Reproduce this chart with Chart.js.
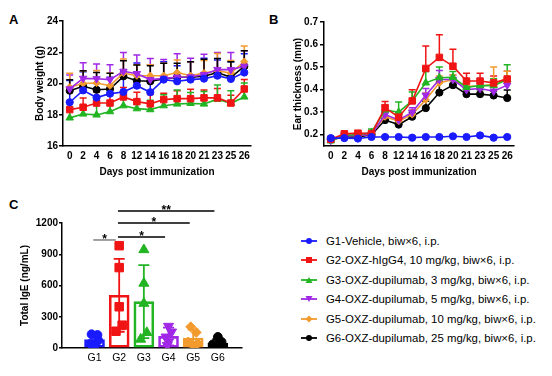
<!DOCTYPE html>
<html><head><meta charset="utf-8">
<script src="https://cdn.jsdelivr.net/npm/chart.js@4/dist/chart.umd.min.js"></script>
<style>
body{margin:0;background:#fff;width:552px;height:376px;overflow:hidden;position:relative;font-family:"Liberation Sans",Arial,sans-serif;}
canvas{position:absolute;}
.lbl{position:absolute;font-weight:bold;font-size:13px;color:#000;}
#legend{position:absolute;left:300px;top:231px;font-size:11.4px;color:#000;}
.row{height:19.5px;display:flex;align-items:center;white-space:nowrap}
.row svg{margin-right:8px}
</style></head>
<body>
<div class="lbl" style="left:9px;top:12px">A</div>
<div class="lbl" style="left:269px;top:12px">B</div>
<div class="lbl" style="left:9px;top:197px">C</div>
<canvas id="cA" width="270" height="190" style="left:0;top:0"></canvas>
<canvas id="cB" width="280" height="190" style="left:260px;top:0"></canvas>
<canvas id="cC" width="260" height="186" style="left:0;top:190px"></canvas>
<div id="legend"></div>
<script>
// ---------- data ----------
const days = ['0','2','4','6','8','12','14','16','18','20','21','23','25','26'];
const groupLabels = ['G1-Vehicle, biw×6, i.p.','G2-OXZ-hIgG4, 10 mg/kg, biw×6, i.p.','G3-OXZ-dupilumab, 3 mg/kg, biw×6, i.p.','G4-OXZ-dupilumab, 5 mg/kg, biw×6, i.p.','G5-OXZ-dupilumab, 10 mg/kg, biw×6, i.p.','G6-OXZ-dupilumab, 25 mg/kg, biw×6, i.p.'];
const groupShort = ['G1','G2','G3','G4','G5','G6'];
const groupColors = ['#1a1aff','#f01414','#22b422','#a028e6','#f39a2e','#000000'];
const groupMarkers = ['circle','rect','triangle','triangle','rectRot','circle'];
const markerRotation = [0,0,0,180,0,0];

const weightG1 = [18.8,19.56,19.1,19.35,19.46,19.86,19.44,20.25,20.14,20.25,20.31,20.5,20.29,20.7];
const weightG2 = [18.33,18.48,18.75,18.75,19.14,18.84,18.7,18.97,19.03,19.03,19.08,19.08,18.75,19.65];
const weightG3 = [17.8,18.05,17.99,18.2,18.58,18.39,18.33,18.58,18.69,18.73,18.69,19.0,18.73,19.14];
const weightG4 = [19.65,20.33,20.3,20.25,20.78,20.63,20.25,20.33,20.4,20.42,20.57,20.89,20.89,21.1];
const weightG5 = [19.76,20.0,20.03,19.86,20.67,20.5,20.5,20.5,20.7,20.5,20.67,20.82,20.67,21.4];
const weightG6 = [19.54,19.82,19.6,19.65,20.46,20.18,20.14,20.29,20.4,20.4,20.46,20.7,20.4,21.1];
const weightErrG1 = [1.4,1.2,0.9,1.05,1.3,1.45,1.76,1.15,1.0,1.15,1.3,1.0,1.1,1.2];
const weightErrG2 = [0.5,0.6,0.7,0.6,0.6,0.6,0.6,0.4,0.5,0.6,0.5,0.6,0.5,0.6];
const weightErrG3 = [0.6,0.5,0.8,0.5,0.6,0.5,0.6,0.7,0.9,0.7,0.8,0.9,0.8,0.9];
const weightErrG4 = [0.9,1.0,0.95,0.95,1.2,1.2,1.35,1.2,1.5,1.2,1.3,1.1,1.1,1.0];
const weightErrG5 = [0.9,0.8,0.8,0.8,0.9,0.7,0.7,0.8,0.8,0.9,0.8,1.1,0.8,1.0];
const weightErrG6 = [0.7,1.0,1.1,1.0,1.0,1.0,1.0,1.0,0.9,1.0,1.1,0.9,1.0,1.0];
const weightTicks = [16,18,20,22,24];

const earG1 = [0.185,0.185,0.183,0.19,0.19,0.19,0.187,0.19,0.19,0.193,0.19,0.197,0.187,0.19];
const earG2 = [0.18,0.204,0.207,0.205,0.32,0.278,0.35,0.494,0.543,0.504,0.438,0.438,0.43,0.447];
const earG3 = [0.173,0.198,0.2,0.21,0.31,0.3,0.35,0.43,0.453,0.455,0.41,0.418,0.418,0.445];
const earG4 = [0.175,0.195,0.197,0.2,0.29,0.265,0.3,0.375,0.445,0.445,0.4,0.405,0.393,0.42];
const earG5 = [0.178,0.198,0.2,0.205,0.28,0.26,0.29,0.355,0.43,0.445,0.415,0.415,0.425,0.452];
const earG6 = [0.178,0.19,0.19,0.2,0.265,0.245,0.28,0.318,0.387,0.42,0.38,0.38,0.374,0.363];
const earErrG1 = [0.006,0.006,0.006,0.006,0.006,0.006,0.006,0.006,0.006,0.006,0.006,0.006,0.006,0.006];
const earErrG2 = [0.005,0.008,0.008,0.008,0.027,0.022,0.05,0.1,0.1,0.075,0.035,0.035,0.03,0.035];
const earErrG3 = [0.005,0.008,0.008,0.015,0.02,0.045,0.04,0.05,0.047,0.025,0.03,0.03,0.03,0.065];
const earErrG4 = [0.005,0.008,0.008,0.008,0.02,0.02,0.02,0.03,0.04,0.02,0.02,0.02,0.02,0.02];
const earErrG5 = [0.005,0.008,0.008,0.008,0.02,0.02,0.02,0.03,0.03,0.02,0.02,0.02,0.075,0.03];
const earErrG6 = [0.005,0.008,0.008,0.008,0.015,0.015,0.02,0.03,0.05,0.02,0.02,0.02,0.02,0.035];
const earTicks = [0.2,0.3,0.4,0.5,0.6,0.7];

const igeMean = [80,506,445,111,96,48];
const igeSD = [36,350,350,85,80,38];
const igePtsG1 = [132,125,74,42,26];
const igePtsG2 = [982,772,396,219,161];
const igePtsG3 = [943,621,428,148,84];
const igePtsG4 = [209,154,106,58,26];
const igePtsG5 = [203,150,58,42,26];
const igePtsG6 = [106,58,35,26,16];
const igeJitter = [[-0.12,0.12,0.15,-0.15,0],[0,0,0,0.12,-0.13],[0,0,0,0.12,-0.13],[0,0.12,-0.1,0,-0.05],[-0.1,0.12,-0.2,0.18,0],[0,0.15,-0.2,-0.05,0.2]];
const igeTicks = [0,300,600,900,1200];
// significance brackets
const sigFrom = [0,1,1,1];
const sigTo = [1,3,4,5];
const sigY = [1037,1066,1200,1315];
const sigLabel = ['*','*','*','**'];
const sigColor = ['#808080','#000','#000','#000'];

// ---------- helpers ----------
const FONT = '"Liberation Sans", Arial, sans-serif';
Chart.defaults.font.family = FONT;
Chart.defaults.color = '#000';

const errPlugin = {
  id: 'errbars',
  beforeDatasetsDraw(chart) {
    const ctx = chart.ctx, ys = chart.scales.y;
    chart.data.datasets.forEach((ds, i) => {
      if (!ds.errors) return;
      const meta = chart.getDatasetMeta(i);
      ctx.save();
      ctx.strokeStyle = ds.borderColor;
      ctx.lineWidth = 1.5;
      meta.data.forEach((el, j) => {
        const val = ds.data[j];
        const x = el.x;
        const yTop = ys.getPixelForValue(val + ds.errors[j]);
        const yMid = ys.getPixelForValue(val);
        ctx.beginPath();
        ctx.moveTo(x, yMid); ctx.lineTo(x, yTop);
        ctx.moveTo(x - 3.5, yTop); ctx.lineTo(x + 3.5, yTop);
        ctx.stroke();
      });
      ctx.restore();
    });
  }
};

function lineDatasets(vals, errs) {
  return vals.map((v, i) => ({
    label: groupShort[i], data: v, errors: errs[i],
    borderColor: groupColors[i], backgroundColor: groupColors[i],
    borderWidth: 1.6, pointStyle: groupMarkers[i], rotation: markerRotation[i],
    pointRadius: groupMarkers[i] === 'rect' ? 4.6 : (groupMarkers[i] === 'triangle' ? 4.3 : 3.6),
    pointBorderWidth: 1, tension: 0
  }));
}

function axisCommon(fontBold) {
  return {
    border: { display: true, color: '#000', width: 1.5 },
    grid: { drawOnChartArea: false, drawTicks: true, tickLength: 4, color: '#000', lineWidth: 1.5 },
    ticks: { color: '#000', font: { size: 10, weight: fontBold ? 'bold' : 'normal' } }
  };
}

function lineOptions(yMin, yMax, ticksArr, yTitle, ylPad, yTitlePad, yW, rightPad, topPad, fmt) {
  const ys = axisCommon(true);
  ys.min = yMin; ys.max = yMax;
  ys.ticks.padding = ylPad;
  ys.ticks.callback = v => fmt(v);
  ys.afterBuildTicks = s => { s.ticks = ticksArr.map(v => ({ value: v })); };
  ys.afterFit = s => { s.width = yW; };
  ys.title = { display: true, text: yTitle, font: { size: 10, weight: 'bold' }, padding: { top: yTitlePad, bottom: 0 } };
  const xs = axisCommon(true);
  xs.offset = true;
  xs.grid.drawTicks = false; xs.grid.tickLength = 0;
  xs.ticks.padding = 4; xs.ticks.maxRotation = 0; xs.ticks.autoSkip = false;
  xs.afterFit = s => { s.height = 44; };
  xs.title = { display: true, text: 'Days post immunization', font: { size: 10, weight: 'bold' }, padding: { top: 0, bottom: 12 } };
  return {
    responsive: false, animation: false, devicePixelRatio: 1,
    layout: { padding: { left: 0, right: rightPad, top: topPad, bottom: 0 } },
    plugins: { legend: { display: false }, tooltip: { enabled: false } },
    scales: { x: xs, y: ys }
  };
}

// ---------- Panel A ----------
new Chart(document.getElementById('cA'), {
  type: 'line',
  data: { labels: days, datasets: lineDatasets(
    [weightG1, weightG2, weightG3, weightG4, weightG5, weightG6],
    [weightErrG1, weightErrG2, weightErrG3, weightErrG4, weightErrG5, weightErrG6]) },
  options: lineOptions(16, 24, weightTicks, 'Body weight (g)', 1, 34, 63, 19, 21, v => String(v)),
  plugins: [errPlugin]
});

// ---------- Panel B ----------
new Chart(document.getElementById('cB'), {
  type: 'line',
  data: { labels: days, datasets: lineDatasets(
    [earG1, earG2, earG3, earG4, earG5, earG6],
    [earErrG1, earErrG2, earErrG3, earErrG4, earErrG5, earErrG6]) },
  options: lineOptions(0.15, 0.7, earTicks, 'Ear thickness (mm)', 2, 32, 64, 26, 22, v => v.toFixed(1)),
  plugins: [errPlugin]
});

// ---------- Panel C ----------
const igePts = [igePtsG1, igePtsG2, igePtsG3, igePtsG4, igePtsG5, igePtsG6];
const cDatasets = [];
igePts.forEach((pts, g) => {
  cDatasets.push({
    type: 'scatter', data: pts.map((v, k) => ({ x: g + 1 + igeJitter[g][k], y: v })),
    pointStyle: groupMarkers[g], rotation: markerRotation[g],
    pointRadius: groupMarkers[g] === 'rect' ? 6 : (groupMarkers[g] === 'triangle' ? 5.8 : (groupMarkers[g] === 'rectRot' ? 5 : 4.4)),
    backgroundColor: groupColors[g], borderColor: groupColors[g], borderWidth: 1
  });
});
cDatasets.push({
  type: 'bar', data: igeMean.map((v, g) => ({ x: g + 1, y: v })),
  backgroundColor: 'rgba(255,255,255,0)', borderColor: groupColors, borderWidth: 2,
  borderSkipped: false, barThickness: 20
});
const errPluginC = {
  id: 'errbarsC',
  beforeDatasetsDraw(chart) {
    const ctx = chart.ctx, ys = chart.scales.y;
    const di = chart.data.datasets.length - 1;
    const meta = chart.getDatasetMeta(di);
    meta.data.forEach((el, j) => {
      const x = el.x;
      const yTop = ys.getPixelForValue(igeMean[j] + igeSD[j]);
      const yBot = ys.getPixelForValue(Math.max(0, igeMean[j] - igeSD[j]));
      ctx.save(); ctx.strokeStyle = groupColors[j]; ctx.lineWidth = 1.8;
      ctx.beginPath();
      ctx.moveTo(x, yBot); ctx.lineTo(x, yTop);
      ctx.moveTo(x - 5.5, yTop); ctx.lineTo(x + 5.5, yTop);
      ctx.moveTo(x - 5.5, yBot); ctx.lineTo(x + 5.5, yBot);
      ctx.stroke(); ctx.restore();
    });
  },
  afterDraw(chart) {
    const ctx = chart.ctx, xs = chart.scales.x, ys = chart.scales.y;
    ctx.save();
    sigFrom.forEach((f, k) => {
      const x1 = xs.getPixelForValue(f + 1 - 0.05);
      const x2 = xs.getPixelForValue(sigTo[k] + 1 - 0.14);
      const y = ys.getPixelForValue(sigY[k]);
      ctx.strokeStyle = sigColor[k]; ctx.lineWidth = 1.5;
      ctx.beginPath(); ctx.moveTo(x1, y); ctx.lineTo(x2, y); ctx.stroke();
      ctx.fillStyle = '#000'; ctx.font = 'bold 12px ' + FONT;
      ctx.textAlign = 'center'; ctx.textBaseline = 'alphabetic';
      ctx.fillText(sigLabel[k], (x1 + x2) / 2, y + 3);
    });
    ctx.restore();
  }
};
const cy = axisCommon(true);
cy.min = 0; cy.max = 1200;
cy.ticks.padding = 1; cy.grid.tickLength = 3;
cy.ticks.callback = v => String(v);
cy.afterBuildTicks = s => { s.ticks = igeTicks.map(v => ({ value: v })); };
cy.afterFit = s => { s.width = 62; };
cy.title = { display: true, text: 'Total IgE (ng/mL)', font: { size: 10, weight: 'bold' }, padding: { top: 19, bottom: 0 } };
const cx = axisCommon(false);
cx.type = 'linear'; cx.min = 0.29; cx.max = 6.37;
cx.grid.drawTicks = false; cx.grid.tickLength = 0;
cx.ticks.padding = 4; cx.ticks.font = { size: 10.5 };
cx.ticks.callback = v => groupShort[v - 1] || '';
cx.afterBuildTicks = s => { s.ticks = groupShort.map((g, i) => ({ value: i + 1 })); };
cx.afterFit = s => { s.height = 28; };
new Chart(document.getElementById('cC'), {
  type: 'bar',
  data: { datasets: cDatasets },
  options: {
    responsive: false, animation: false, devicePixelRatio: 1,
    layout: { padding: { left: 0, right: 18, top: 33, bottom: 0 } },
    plugins: { legend: { display: false }, tooltip: { enabled: false } },
    scales: { x: cx, y: cy }
  },
  plugins: [errPluginC]
});

// ---------- Legend ----------
const shapeSvg = (i) => {
  const c = groupColors[i], m = groupMarkers[i];
  let s = '';
  if (m === 'circle') s = `<circle cx="8" cy="5" r="3" fill="${c}"/>`;
  else if (m === 'rect') s = `<rect x="5" y="2" width="6" height="6" fill="${c}"/>`;
  else if (m === 'rectRot') s = `<polygon points="8,1.5 11.5,5 8,8.5 4.5,5" fill="${c}"/>`;
  else if (markerRotation[i] === 180) s = `<polygon points="4.5,2 11.5,2 8,8" fill="${c}"/>`;
  else s = `<polygon points="8,2 11.5,8 4.5,8" fill="${c}"/>`;
  return `<svg width="18" height="10" viewBox="0 0 16 10"><line x1="0" y1="5" x2="16" y2="5" stroke="${c}" stroke-width="1.8"/>${s}</svg>`;
};
document.getElementById('legend').innerHTML = groupLabels.map((t, i) =>
  `<div class="row">${shapeSvg(i)}<span>${t}</span></div>`).join('');
</script>
</body></html>
